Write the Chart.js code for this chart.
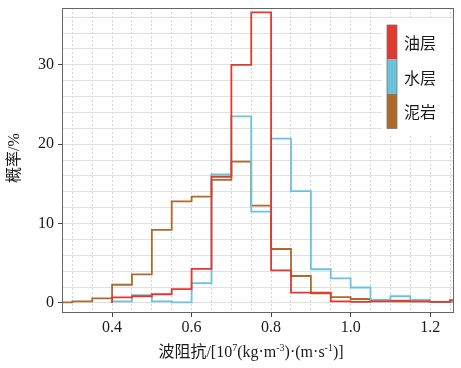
<!DOCTYPE html>
<html>
<head>
<meta charset="utf-8">
<script src="https://cdn.jsdelivr.net/npm/chart.js@4.4.1/dist/chart.umd.min.js"></script>
<style>
html, body { margin: 0; padding: 0; background: #fff; }
#wrap { width: 461px; height: 368px; }
</style>
</head>
<body>
<div id="wrap"><canvas id="histChart" width="461" height="368"></canvas></div>
<script>
// bin edges of the histogram (each value covers [edge i, edge i+1])
const binEdges = [0.25, 0.30, 0.35, 0.40, 0.45, 0.50, 0.55, 0.60, 0.65, 0.70, 0.75,
    0.80, 0.85, 0.90, 0.95, 1.00, 1.05, 1.10, 1.15, 1.20, 1.25, 1.30];

const oilValues = [null, null, null, 0.7, 0.85, 1.1, 1.75, 4.3, 15.9, 30.0, 36.6,
    4.1, 1.3, 1.3, 0.2, 0.15, 0.2, 0.2, 0.2, 0.15, 0.35];
const waterValues = [null, null, null, 0.2, 1.0, 0.2, 0.07, 2.5, 16.2, 23.5, 11.5,
    20.7, 14.1, 4.25, 3.1, 1.95, 0.4, 0.85, 0.4, 0.15, 0.15];
const mudValues = [0.08, 0.2, 0.58, 2.3, 3.6, 9.2, 12.8, 13.4, 15.5, 17.8, 12.25,
    6.8, 3.4, 1.2, 0.75, 0.5, 0.35, 0.3, 0.2, 0.15, 0.2];

const seriesNames = ["油层", "水层", "泥岩"];
const seriesColors = ["#e0392e", "#6cc2dd", "#ad6a2c"];

const xGridValues = [0.30, 0.35, 0.40, 0.45, 0.50, 0.55, 0.60, 0.65, 0.70, 0.75, 0.80,
    0.85, 0.90, 0.95, 1.00, 1.05, 1.10, 1.15, 1.20, 1.25];
const xMajorValues = [0.4, 0.6, 0.8, 1.0, 1.2];
const xTickLabels = ["0.4", "0.6", "0.8", "1.0", "1.2"];
const yGridValues = [0, 2, 4, 6, 8, 10, 12, 14, 16, 18, 20, 22, 24, 26, 28, 30, 32, 34, 36];
const yMajorValues = [0, 10, 20, 30];
const yTickLabels = ["0", "10", "20", "30"];

const yTitle = "概率/%";
// x title pieces: [text, superscript?]
const xTitleParts = [["波阻抗/[10", false], ["7", true], ["(kg·m", false], ["-3", true],
    [")·(m·s", false], ["-1", true], [")]", false]];

const serif = "'Liberation Serif', 'Noto Sans CJK SC', serif";

function majorIndex(list, v) {
    return list.findIndex(m => Math.abs(m - v) < 1e-6);
}

function stepPoints(values) {
    const pts = [];
    let last = null;
    values.forEach((v, i) => {
        if (v === null) { last = null; return; }
        if (last === null) pts.push({ x: binEdges[i], y: 0 });
        pts.push({ x: binEdges[i], y: v });
        last = v;
    });
    pts.push({ x: binEdges[values.length], y: values[values.length - 1] });
    return pts;
}

// no extra room for the (empty) edge labels
function noLabelPadding(s) {
    s.paddingTop = 0;
    s.paddingBottom = 0;
    s.paddingLeft = 0;
    s.paddingRight = 0;
}

const extras = {
    id: "extras",
    afterDraw(chart) {
        const ctx = chart.ctx;
        const area = chart.chartArea;

        // panel border
        ctx.save();
        ctx.strokeStyle = "#666";
        ctx.lineWidth = 1;
        ctx.strokeRect(area.left + 0.5, area.top + 0.5, area.right - area.left - 1, area.bottom - area.top - 1);

        // legend
        ctx.fillStyle = "#fff";
        ctx.fillRect(382, 20, 69, 114);
        const barX = 387, barW = 10, top = 25, blockH = 34.5;
        seriesNames.forEach((name, i) => {
            ctx.fillStyle = seriesColors[i];
            ctx.fillRect(barX, top + i * blockH, barW, blockH);
            ctx.fillStyle = "#1a1a1a";
            ctx.font = "16px 'Noto Sans CJK SC'";
            ctx.textAlign = "left";
            ctx.textBaseline = "middle";
            ctx.fillText(name, 404, top + i * blockH + blockH / 2 + 1);
        });
        ctx.strokeStyle = "#777";
        ctx.lineWidth = 0.8;
        ctx.strokeRect(barX, top, barW, blockH * 3);

        // y title
        ctx.save();
        ctx.translate(15, 158);
        ctx.rotate(-Math.PI / 2);
        ctx.fillStyle = "#1a1a1a";
        ctx.font = "16px " + serif;
        ctx.textAlign = "center";
        ctx.textBaseline = "middle";
        ctx.fillText(yTitle, 0, 0);
        ctx.restore();

        // x title with superscripts
        const normalFont = "16px " + serif;
        const supFont = "10px " + serif;
        let total = 0;
        xTitleParts.forEach(([t, sup]) => {
            ctx.font = sup ? supFont : normalFont;
            total += ctx.measureText(t).width;
        });
        let x = 251 - total / 2;
        const baseY = 357;
        ctx.fillStyle = "#1a1a1a";
        ctx.textAlign = "left";
        ctx.textBaseline = "alphabetic";
        xTitleParts.forEach(([t, sup]) => {
            ctx.font = sup ? supFont : normalFont;
            ctx.fillText(t, x, sup ? baseY - 6 : baseY);
            x += ctx.measureText(t).width;
        });
        ctx.restore();
    }
};

new Chart(document.getElementById("histChart"), {
    type: "line",
    data: {
        datasets: [
            { label: seriesNames[0], data: stepPoints(oilValues) },
            { label: seriesNames[1], data: stepPoints(waterValues) },
            { label: seriesNames[2], data: stepPoints(mudValues) }
        ].map((d, i) => Object.assign(d, {
            borderColor: seriesColors[i],
            borderWidth: 1.8,
            stepped: true,
            pointRadius: 0,
            fill: false,
            clip: 0
        }))
    },
    options: {
        responsive: false,
        animation: false,
        devicePixelRatio: 1,
        layout: { padding: { top: 8, right: 7, left: 0, bottom: 0 } },
        plugins: {
            legend: { display: false },
            tooltip: { enabled: false }
        },
        scales: {
            x: {
                type: "linear",
                min: 0.274,
                max: 1.26,
                afterBuildTicks: s => { s.ticks = xGridValues.map(v => ({ value: v })); },
                afterFit: s => { s.height = 55; noLabelPadding(s); },
                border: { display: false, dash: [2, 2] },
                grid: {
                    color: "#d4d4d4",
                    lineWidth: 1,
                    tickLength: 4,
                    tickColor: c => majorIndex(xMajorValues, c.tick.value) >= 0 ? "#444" : "rgba(0,0,0,0)"
                },
                ticks: {
                    autoSkip: false,
                    maxRotation: 0,
                    padding: 1,
                    color: "#1a1a1a",
                    font: { family: serif, size: 16 },
                    callback: v => {
                        const i = majorIndex(xMajorValues, v);
                        return i >= 0 ? xTickLabels[i] : "";
                    }
                }
            },
            y: {
                min: -1.26,
                max: 37.15,
                afterBuildTicks: s => { s.ticks = yGridValues.map(v => ({ value: v })); },
                afterFit: s => { s.width = 62; noLabelPadding(s); },
                border: { display: false },
                grid: {
                    color: "#e0e0e0",
                    lineWidth: 1,
                    tickLength: 4,
                    tickColor: c => majorIndex(yMajorValues, c.tick.value) >= 0 ? "#444" : "rgba(0,0,0,0)"
                },
                ticks: {
                    autoSkip: false,
                    padding: 4,
                    color: "#1a1a1a",
                    font: { family: serif, size: 16 },
                    callback: v => {
                        const i = majorIndex(yMajorValues, v);
                        return i >= 0 ? yTickLabels[i] : "";
                    }
                }
            }
        }
    },
    plugins: [extras]
});
</script>
</body>
</html>
